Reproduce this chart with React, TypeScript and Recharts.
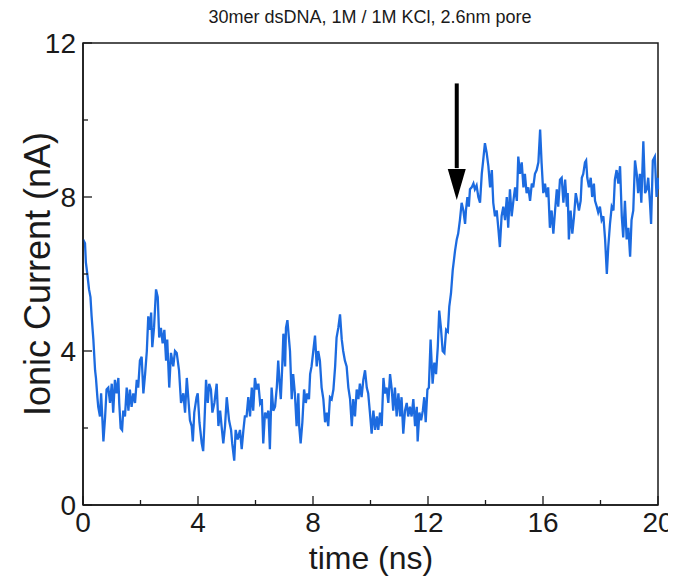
import React from 'react';
import {
  LineChart,
  Line,
  XAxis,
  YAxis,
  ReferenceArea,
  ReferenceLine,
  ReferenceDot,
} from 'recharts';

// trace, split in chunks of ~3 ns
const seg1Time = [0, 0.07, 0.10, 0.15, 0.21, 0.26, 0.30, 0.36, 0.42, 0.45, 0.50, 0.53, 0.59, 0.63, 0.67, 0.71, 0.77, 0.82, 0.88, 0.94, 1.00, 1.05, 1.11, 1.17, 1.23, 1.26, 1.31, 1.36, 1.40, 1.46, 1.52, 1.58, 1.63, 1.69, 1.75, 1.81, 1.87, 1.92, 1.98, 2.04, 2.10, 2.16, 2.22, 2.27, 2.33, 2.37, 2.41, 2.47, 2.54, 2.60, 2.65, 2.71, 2.77, 2.83, 2.89, 2.93, 3.00, 3.06, 3.14];
const seg1Current = [6.9, 6.8, 6.3, 6.0, 5.6, 5.4, 4.9, 4.3, 3.5, 3.3, 2.8, 2.55, 2.3, 2.9, 2.3, 1.65, 2.3, 3.0, 3.05, 2.65, 3.15, 2.4, 3.25, 2.9, 3.3, 2.65, 2.0, 1.95, 2.45, 2.3, 3.05, 2.45, 3.0, 2.55, 2.9, 2.65, 3.25, 3.05, 3.75, 3.85, 2.9, 3.4, 4.0, 4.9, 4.55, 5.0, 4.1, 4.6, 5.6, 5.4, 4.35, 4.6, 4.2, 4.55, 3.75, 4.3, 3.05, 3.95, 3.6];

const seg2Time = [3.20, 3.26, 3.34, 3.41, 3.49, 3.55, 3.61, 3.66, 3.72, 3.78, 3.82, 3.87, 3.95, 3.99, 4.05, 4.13, 4.18, 4.22, 4.28, 4.34, 4.39, 4.45, 4.50, 4.57, 4.65, 4.71, 4.77, 4.82, 4.88, 4.94, 5.00, 5.08, 5.15, 5.19, 5.26, 5.31, 5.38, 5.46, 5.52, 5.58, 5.63, 5.69, 5.75, 5.81, 5.87, 5.92, 5.98, 6.04, 6.10, 6.16, 6.22, 6.27, 6.33, 6.39, 6.45];
const seg2Current = [4.0, 3.95, 3.5, 2.65, 2.9, 2.4, 3.3, 2.8, 2.2, 2.05, 1.65, 2.4, 2.8, 2.9, 2.15, 1.6, 1.4, 2.05, 3.25, 2.65, 3.15, 3.0, 2.4, 2.65, 3.15, 2.05, 2.45, 2.05, 1.6, 2.05, 2.8, 2.2, 1.95, 1.6, 1.15, 1.95, 1.7, 1.95, 1.45, 1.95, 2.3, 2.3, 2.8, 2.3, 3.05, 2.45, 3.3, 3.0, 3.15, 2.65, 2.75, 1.6, 2.4, 2.3, 2.45];

const seg3Time = [6.50, 6.56, 6.62, 6.68, 6.74, 6.79, 6.83, 6.88, 6.93, 6.97, 7.03, 7.06, 7.11, 7.16, 7.20, 7.26, 7.31, 7.37, 7.43, 7.49, 7.52, 7.57, 7.63, 7.69, 7.75, 7.80, 7.86, 7.90, 7.95, 8.01, 8.07, 8.13, 8.18, 8.24, 8.30, 8.36, 8.42, 8.48, 8.53, 8.59, 8.65, 8.71, 8.77, 8.82, 8.88, 8.94, 9.00, 9.05, 9.11, 9.17, 9.23, 9.29, 9.35, 9.40, 9.46, 9.52, 9.58, 9.63, 9.69, 9.75];
const seg3Current = [1.45, 3.05, 2.45, 2.55, 3.05, 3.75, 3.25, 2.75, 3.6, 4.45, 3.6, 4.6, 4.8, 4.35, 4.0, 2.75, 3.4, 2.9, 2.05, 2.9, 2.05, 1.6, 2.15, 3.0, 2.65, 2.9, 2.75, 3.4, 3.6, 4.0, 4.4, 3.6, 4.0, 3.75, 3.05, 2.75, 2.15, 2.4, 2.05, 2.8, 2.75, 3.0, 3.6, 4.35, 4.6, 4.95, 4.3, 4.0, 3.75, 3.6, 3.05, 2.75, 2.05, 2.75, 2.3, 3.0, 2.75, 3.15, 2.8, 3.25];

const seg4Time = [9.81, 9.87, 9.92, 9.98, 10.04, 10.10, 10.16, 10.22, 10.27, 10.33, 10.39, 10.45, 10.50, 10.56, 10.62, 10.68, 10.74, 10.79, 10.85, 10.91, 10.97, 11.03, 11.08, 11.14, 11.20, 11.26, 11.31, 11.37, 11.43, 11.49, 11.55, 11.61, 11.64, 11.70, 11.76, 11.82, 11.87, 11.92, 11.98, 12.03, 12.09, 12.16, 12.22, 12.28, 12.34, 12.39, 12.45, 12.51, 12.57, 12.63, 12.69, 12.74, 12.80];
const seg4Current = [3.5, 3.05, 2.9, 2.4, 1.85, 2.45, 1.95, 2.3, 1.95, 2.4, 2.05, 3.3, 2.9, 3.05, 2.65, 3.4, 3.0, 2.45, 3.05, 2.3, 2.9, 2.3, 2.8, 1.85, 2.45, 2.65, 2.3, 2.55, 2.3, 2.75, 2.05, 2.55, 1.65, 2.4, 2.2, 2.45, 2.8, 2.15, 3.0, 3.05, 4.3, 3.15, 3.7, 3.4, 4.1, 5.05, 4.6, 4.0, 3.95, 4.55, 4.5, 5.15, 5.5];

const seg5Time = [12.86, 12.90, 12.94, 13.00, 13.05, 13.11, 13.17, 13.23, 13.29, 13.32, 13.37, 13.42, 13.46, 13.52, 13.58, 13.63, 13.69, 13.75, 13.81, 13.87, 13.92, 13.98, 14.04, 14.10, 14.16, 14.22, 14.27, 14.33, 14.39, 14.45, 14.50, 14.56, 14.62, 14.68, 14.74, 14.79, 14.85, 14.91, 14.97, 15.03, 15.09, 15.14, 15.20, 15.26, 15.32, 15.37, 15.43, 15.49, 15.55, 15.61, 15.66, 15.72, 15.78, 15.84, 15.90, 15.95, 16.01, 16.07, 16.13, 16.18, 16.24, 16.30, 16.36];
const seg5Current = [6.1, 6.35, 6.6, 6.9, 7.05, 7.4, 7.85, 7.65, 7.3, 7.65, 8.0, 7.75, 8.2, 8.25, 8.35, 8.2, 8.3, 8.0, 7.85, 8.6, 8.95, 9.4, 9.15, 8.8, 8.25, 8.7, 7.85, 7.5, 7.65, 7.15, 6.7, 7.5, 7.75, 7.4, 8.0, 7.2, 8.2, 7.5, 7.9, 8.25, 7.9, 9.05, 8.6, 8.9, 8.25, 8.6, 8.1, 8.25, 7.9, 8.35, 8.25, 8.6, 8.7, 8.9, 9.75, 8.9, 8.1, 8.35, 8.0, 8.25, 7.2, 7.65, 7.05];

const seg6Time = [16.42, 16.48, 16.53, 16.59, 16.65, 16.71, 16.77, 16.83, 16.86, 16.90, 16.96, 17.02, 17.08, 17.14, 17.19, 17.25, 17.31, 17.35, 17.40, 17.46, 17.50, 17.54, 17.60, 17.66, 17.71, 17.77, 17.81, 17.87, 17.92, 17.98, 18.04, 18.10, 18.16, 18.22, 18.27, 18.33, 18.39, 18.45, 18.50, 18.56, 18.62, 18.68, 18.74, 18.79, 18.85, 18.91, 18.97, 19.03, 19.08, 19.14, 19.20, 19.26, 19.31, 19.37, 19.42, 19.49, 19.55, 19.61, 19.66, 19.72, 19.76, 19.82, 19.89, 19.95, 19.99, 20.00];
const seg6Current = [7.65, 8.2, 7.75, 8.45, 8.5, 7.85, 8.45, 7.75, 8.1, 6.9, 7.65, 7.05, 7.5, 8.1, 7.9, 7.65, 7.9, 8.5, 8.6, 8.9, 8.95, 8.5, 8.25, 8.5, 8.0, 8.35, 7.9, 7.75, 7.6, 7.75, 7.4, 7.5, 6.9, 6.0, 6.7, 7.3, 7.75, 7.65, 8.45, 8.7, 8.35, 8.8, 7.5, 6.95, 7.9, 6.9, 7.2, 6.45, 7.4, 7.65, 8.95, 8.6, 8.1, 8.6, 7.85, 9.45, 8.1, 8.2, 8.5, 7.85, 7.3, 8.95, 9.05, 8.0, 8.5, 8.2];

const xTicks = [0, 2, 4, 6, 8, 10, 12, 14, 16, 18, 20];
const yTicks = [0, 2, 4, 6, 8, 10, 12];

// arrow marking translocation (ns, nA)
const arrowTime = 13.0;
const arrowTop = 10.95;
const arrowHeadBase = 8.75;
const arrowTip = 7.92;

const timeNs = [...seg1Time, ...seg2Time, ...seg3Time, ...seg4Time, ...seg5Time, ...seg6Time];
const currentNa = [...seg1Current, ...seg2Current, ...seg3Current, ...seg4Current, ...seg5Current, ...seg6Current];
const data = timeNs.map((t, i) => ({ t, current: currentNa[i] }));

const FONT = '"Liberation Sans", Arial, sans-serif';
const INK = '#1a1a1a';

const XTick = (props: any) => {
  const { x, y, payload } = props;
  const major = payload.value % 4 === 0;
  return (
    <g>
      <line x1={x} x2={x} y1={y} y2={y - (major ? 9 : 5)} stroke={INK} strokeWidth={1.3} />
      {major && (
        <text x={x} y={y + 27} textAnchor="middle" fontSize={28} fontFamily={FONT} fill={INK}>
          {payload.value}
        </text>
      )}
    </g>
  );
};

const YTick = (props: any) => {
  const { x, y, payload } = props;
  const major = payload.value % 4 === 0;
  return (
    <g>
      <line x1={x} x2={x + (major ? 9 : 5)} y1={y} y2={y} stroke={INK} strokeWidth={1.3} />
      {major && (
        <text x={x - 7} y={y} dy="0.36em" textAnchor="end" fontSize={28} fontFamily={FONT} fill={INK}>
          {payload.value}
        </text>
      )}
    </g>
  );
};

const ArrowHead = (props: any) => {
  const { cx, cy } = props;
  return <path d={`M${cx},${cy} L${cx - 9},${cy - 31} L${cx + 9},${cy - 31} Z`} fill="#000" />;
};

export default function App() {
  return (
    <div style={{ position: 'relative', width: 668, height: 575 }}>
      <LineChart width={668} height={575} data={data} margin={{ top: 35, right: 18, left: 0, bottom: 8 }}>
        <XAxis
          dataKey="t"
          type="number"
          domain={[0, 20]}
          ticks={xTicks}
          interval={0}
          height={70}
          tickSize={0}
          tickMargin={0}
          tickLine={false}
          tick={<XTick />}
          axisLine={{ stroke: INK, strokeWidth: 1.5 }}
        />
        <YAxis
          type="number"
          domain={[0, 12]}
          ticks={yTicks}
          interval={0}
          width={75}
          tickSize={0}
          tickMargin={0}
          tickLine={false}
          tick={<YTick />}
          axisLine={{ stroke: INK, strokeWidth: 1.5 }}
        />
        <ReferenceArea x1={0} x2={20} y1={0} y2={12} fill="none" stroke={INK} strokeWidth={1.5} />
        <Line
          type="linear"
          dataKey="current"
          stroke="#1c6be0"
          strokeWidth={2.3}
          dot={false}
          isAnimationActive={false}
        />
        <ReferenceLine
          segment={[{ x: arrowTime, y: arrowTop }, { x: arrowTime, y: arrowHeadBase }]}
          stroke="#000"
          strokeWidth={4}
        />
        <ReferenceDot x={arrowTime} y={arrowTip} shape={<ArrowHead />} />
      </LineChart>
      <svg
        width={668}
        height={575}
        style={{ position: 'absolute', left: 0, top: 0, pointerEvents: 'none' }}
      >
        <text x={362} y={15} textAnchor="middle" fontSize={18} fontFamily={FONT} fill={INK}>
          30mer dsDNA, 1M / 1M KCl, 2.6nm pore
        </text>
        <text
          x={29}
          y={266}
          transform="rotate(-90, 29, 266)"
          textAnchor="middle"
          dominantBaseline="central"
          fontSize={36}
          fontFamily={FONT}
          fill={INK}
        >
          Ionic Current (nA)
        </text>
        <text x={363} y={561} textAnchor="middle" fontSize={32} fontFamily={FONT} fill={INK}>
          time (ns)
        </text>
      </svg>
    </div>
  );
}
